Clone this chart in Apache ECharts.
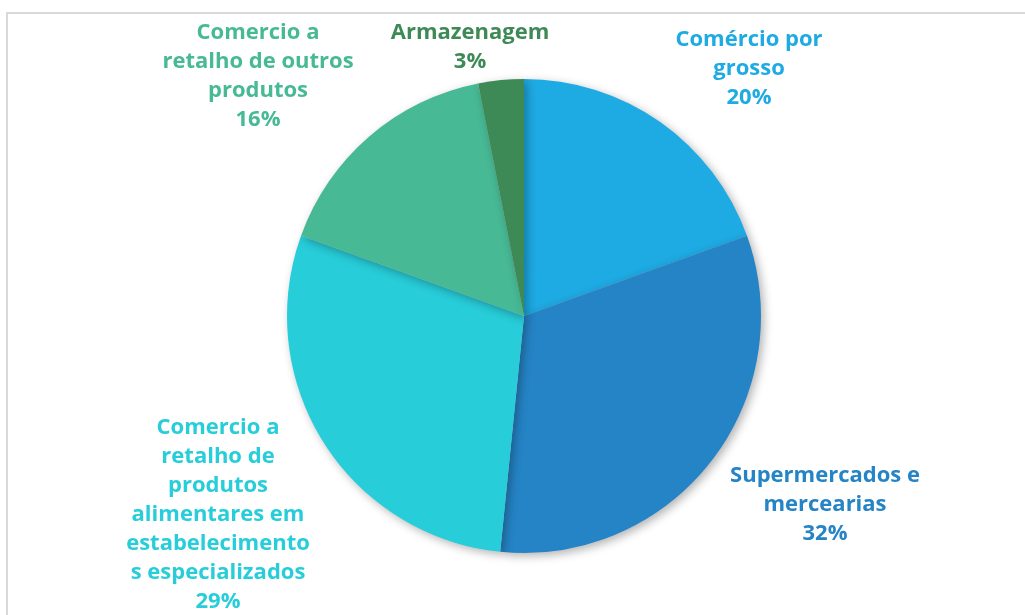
<!DOCTYPE html>
<html>
<head>
<meta charset="utf-8">
<script src="https://cdn.jsdelivr.net/npm/echarts@6/dist/echarts.min.js"></script>
<style>
  html, body { margin: 0; padding: 0; background: #fff; }
  #chart-div { width: 1025px; height: 615px; }
</style>
</head>
<body>
<div id="chart-div"></div>
<script>
// dados do gráfico
const categories = [
    'Comércio por\ngrosso',
    'Supermercados e\nmercearias',
    'Comercio a\nretalho de\nprodutos\nalimentares em\nestabelecimento\ns especializados',
    'Comercio a\nretalho de outros\nprodutos',
    'Armazenagem'
]
const values = [19.5, 32.1, 28.9, 16.4, 3.1]
const colors = ['#1EAAE3', '#2584C6', '#27CDD9', '#47B995', '#3E8A56']

// centros das etiquetas (px)
const labelPos = [[749, 69], [825, 505], [218, 515], [258, 76], [470, 47]]

let myChart = echarts.init(document.getElementById('chart-div'))

const option = {
    animation: false,
    graphic: [{
        type: 'rect',
        shape: { x: 7, y: 13, width: 1100, height: 700 },
        style: { fill: 'none', stroke: '#d9d9d9', lineWidth: 2 },
        z: 0
    }],
    series: [{
        type: 'pie',
        center: [524, 316],
        radius: 237,
        startAngle: 90,
        clockwise: true,
        data: categories.map((c, i) => ({
            name: c,
            value: values[i],
            itemStyle: { color: colors[i] },
            label: { color: colors[i] }
        })),
        itemStyle: {
            shadowBlur: 10,
            shadowColor: 'rgba(0,0,0,0.3)',
            shadowOffsetX: 3,
            shadowOffsetY: 3
        },
        label: {
            show: true,
            position: 'outside',
            formatter: p => p.name + '\n' + Math.round(p.percent) + '%',
            fontFamily: 'Open Sans',
            fontWeight: 'bold',
            fontSize: 22,
            lineHeight: 29,
            align: 'center'
        },
        labelLine: { show: false },
        labelLayout: p => ({
            x: labelPos[p.dataIndex][0],
            y: labelPos[p.dataIndex][1],
            align: 'center',
            verticalAlign: 'middle'
        }),
        emphasis: { disabled: true }
    }]
}

myChart.setOption(option)
</script>
</body>
</html>
